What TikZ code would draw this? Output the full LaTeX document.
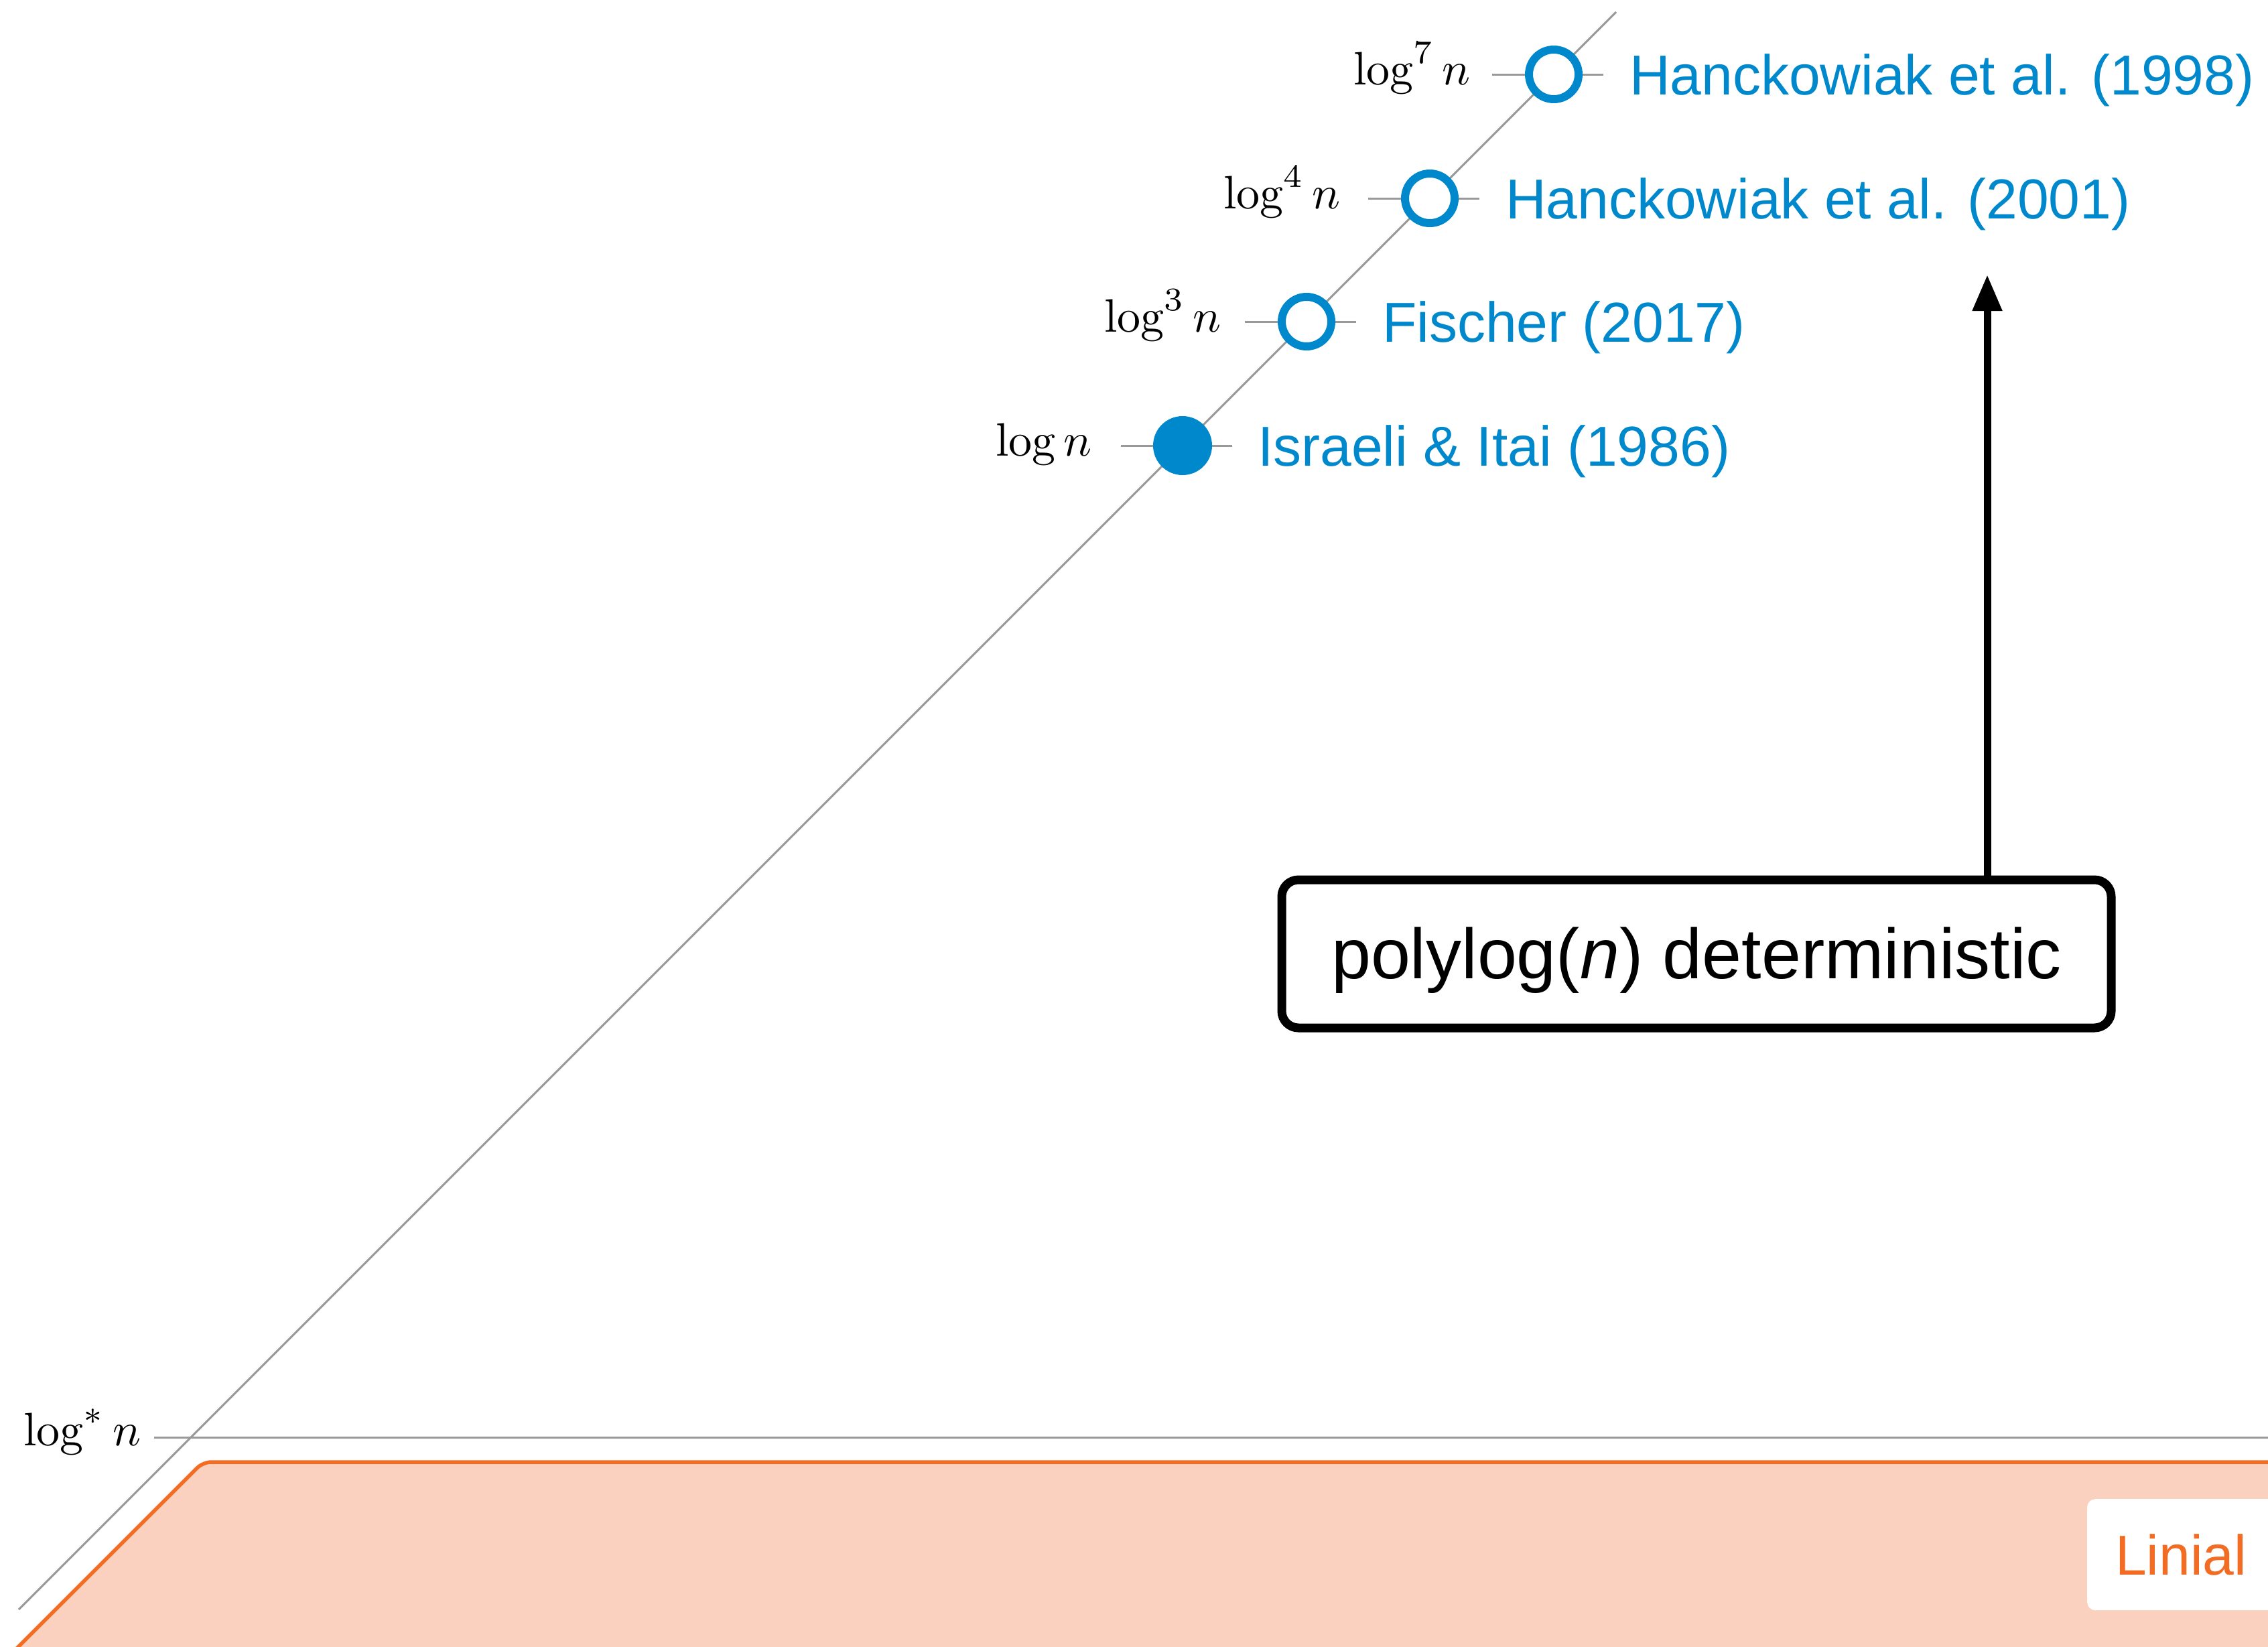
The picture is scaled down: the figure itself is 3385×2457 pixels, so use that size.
\documentclass[tikz,border=0pt]{standalone}
\usepackage{fontspec}
\newfontfamily\sansfont{Liberation Sans}
\usetikzlibrary{arrows.meta,calc}

\definecolor{refblue}{RGB}{0,136,204}
\definecolor{linialorange}{RGB}{242,108,36}
\definecolor{linialfill}{RGB}{250,209,190}
\definecolor{axisgray}{RGB}{153,153,153}

\begin{document}
\begin{tikzpicture}[x=1pt,y=-1pt,
  axis/.style={draw=axisgray,line width=3pt},
  openresult/.style={circle,draw=refblue,line width=12pt,fill=white,minimum size=74pt,inner sep=0pt},
  closedresult/.style={circle,fill=refblue,minimum size=88pt,inner sep=0pt},
  reflabel/.style={anchor=base west,inner sep=0pt,text=refblue,font=\sansfont\fontsize{84}{100}\selectfont},
  boundlabel/.style={anchor=base east,inner sep=0pt,scale=7},
  detbox/.style={draw=black,line width=13pt,rounded corners=25pt,fill=white,
    minimum width=1238pt,minimum height=221pt,inner sep=0pt,
    text height=95pt,text depth=22pt,font=\sansfont\fontsize{106}{120}\selectfont},
  arrowline/.style={draw=black,line width=11pt,-{Triangle[length=54pt,width=42pt]}},
  linialbox/.style={fill=white,rounded corners=12pt,anchor=north west,
    text width=350pt,align=left,inner xsep=42pt,inner ysep=0pt,minimum height=166pt,
    text height=80pt,text depth=20pt,text=linialorange,font=\sansfont\fontsize{84}{100}\selectfont}
]
\useasboundingbox (0,0) rectangle (3385,2457);
\clip (0,0) rectangle (3385,2457);

% region of the log* n class
\draw[fill=linialfill,draw=linialorange,line width=5.5pt]
  (-30,2515) [rounded corners=12pt] -- (303,2182) -- (3500,2182) [sharp corners]
  -- (3500,2600) -- (-30,2600) -- cycle;
\node[linialbox] (linial) at (3115,2237) {Linial};

% axes
\coordinate (diagLow) at (28,2402);
\coordinate (diagHigh) at (2412,18);
\coordinate (starLeft) at (230,2145);
\coordinate (starRight) at (3400,2145);
\draw[axis] (diagLow) -- (diagHigh);
\draw[axis] (starLeft) -- (starRight);
\node[boundlabel] (logstar) at (212,2157) {$\log^* n$};

% result positions on the diagonal
\coordinate (p7) at (2319,111);
\coordinate (p4) at (2134,296);
\coordinate (p3) at (1950,480);
\coordinate (p1) at (1765,665);

\foreach \p in {p7,p4,p3,p1}
  \draw[axis] ($(\p)+(-92,0)$) -- ($(\p)+(74,0)$);

\node[openresult] (r7) at (p7) {};
\node[openresult] (r4) at (p4) {};
\node[openresult] (r3) at (p3) {};
\node[closedresult] (r1) at (p1) {};

\node[boundlabel] (b7) at ($(p7)+(-123,15)$) {$\log^7 n$};
\node[boundlabel] (b4) at ($(p4)+(-132,15)$) {$\log^4 n$};
\node[boundlabel] (b3) at ($(p3)+(-126,15)$) {$\log^3 n$};
\node[boundlabel] (b1) at ($(p1)+(-134,15)$) {$\log n$};

\node[reflabel] (t7) at ($(p7)+(113,30)$) {Hanckowiak et al. (1998)};
\node[reflabel] (t4) at ($(p4)+(113,30)$) {Hanckowiak et al. (2001)};
\node[reflabel] (t3) at ($(p3)+(113,30)$) {Fischer (2017)};
\node[reflabel] (t1) at ($(p1)+(112,30)$) {Israeli \& Itai (1986)};

% deterministic polylog box with its arrow
\node[detbox] (det) at (2532,1423.5) {polylog(\textit{n}) deterministic};
\coordinate (tip) at (2966,410);
\draw[arrowline] (det.north -| tip) -- (tip);
\end{tikzpicture}
\end{document}
